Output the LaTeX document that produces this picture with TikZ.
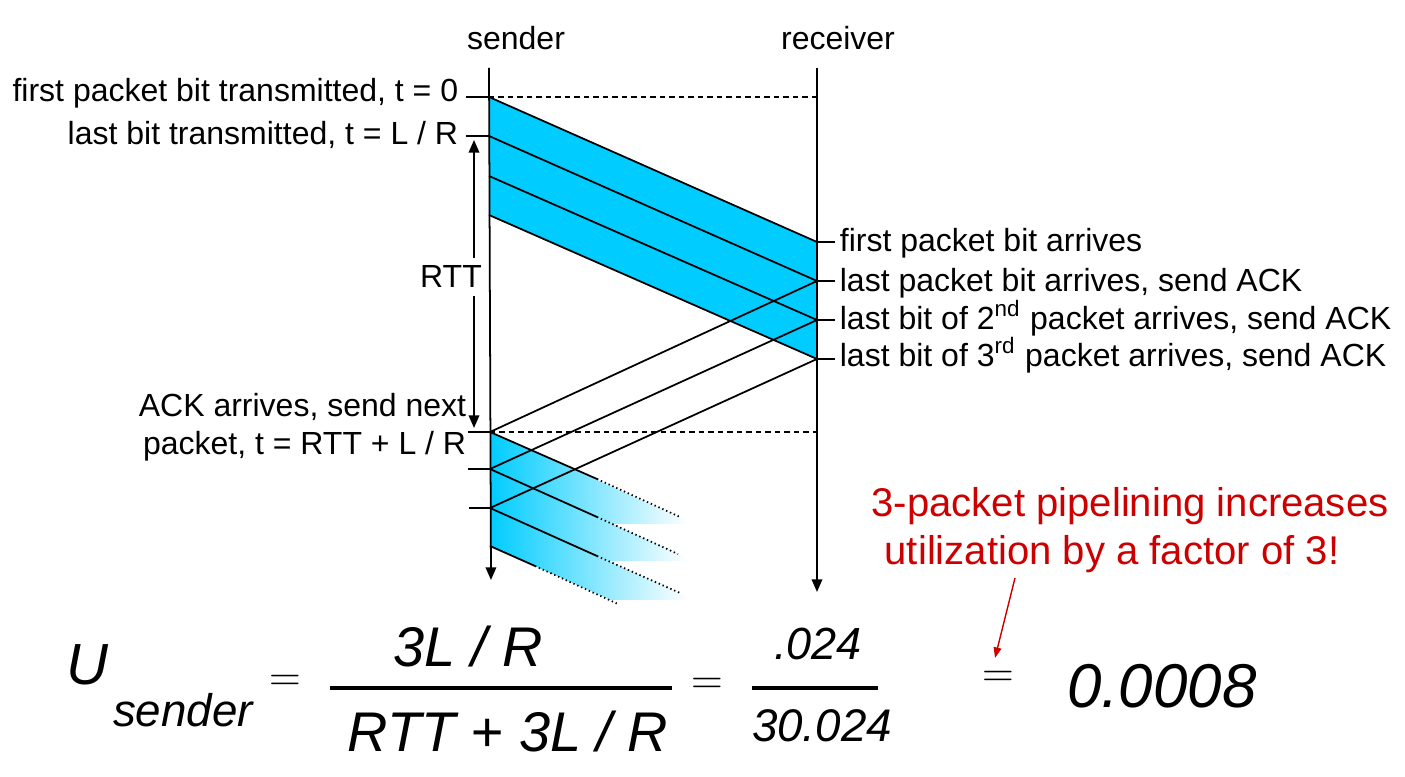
\documentclass[tikz,border=0pt]{standalone}
\usepackage{fontspec}
\setmainfont{Liberation Sans}
\usetikzlibrary{arrows.meta}
\definecolor{pktblue}{RGB}{0,204,255}
\definecolor{notered}{RGB}{204,0,0}
\newcommand{\fadeband}[2]% sender y of top edge, sender y of bottom edge
{(490,#1) -- (688,{#1+89}) -- (688,{#1+92}) -- ({490+(#1+92-#2)/0.447},{#1+92}) -- (490,#2) -- cycle
}

\begin{document}
\begin{tikzpicture}[x=0.01cm, y=-0.01cm, line width=0.5pt,
  lbl/.style={font=\fontsize{9.1}{11}\selectfont, inner sep=0pt},
  eqn/.style={font=\fontsize{#1}{#1}\selectfont\itshape, inner sep=0pt, anchor=base},
  eqsign/.style={font=\fontsize{13}{13}\selectfont, inner sep=0pt},
  tip/.style={-{Triangle[length=3.6pt,width=3pt]}},
  fracbar/.style={line width=1.4pt},
  note/.style={font=\fontsize{11.4}{13}\selectfont, text=notered, inner sep=0pt, anchor=base}]
  \useasboundingbox (0,0) rectangle (1405,777);
  % time lines
  \coordinate (stop) at (489,68);
  \coordinate (sbot) at (491,580);
  \coordinate (rtop) at (817,68);
  \coordinate (rbot) at (817,592);
  \coordinate (s1) at (489,97);
  \coordinate (s2) at (489,136);
  \coordinate (s3) at (489,176);
  \coordinate (s4) at (489,215);
  \coordinate (r1) at (817,242);
  \coordinate (r2) at (817,281);
  \coordinate (r3) at (817,320);
  \coordinate (r4) at (817,359);
  \coordinate (a1) at (490,432);
  \coordinate (a2) at (490,469);
  \coordinate (a3) at (490,508);
  \coordinate (a4) at (490,546);
  \node[lbl, anchor=base] (sname) at (516,50) {sender};
  \node[lbl, anchor=base] (rname) at (838,50) {receiver};

  % first window
  \fill[pktblue] (s1) -- (r1) -- (r4) -- (s4) -- cycle;
  \draw (s1) -- (r1);
  \draw (s2) -- (r2);
  \draw (s3) -- (r3);
  \draw (s4) -- (r4);
  \draw[dash pattern=on 1.5pt off 1.2pt] (s1) -- (s1 -| rtop);

  % next window, fading out
  \shade[left color=pktblue, right color=white] \fadeband{432}{469};
  \shade[left color=pktblue, right color=white] \fadeband{469}{508};
  \shade[left color=pktblue, right color=white] \fadeband{508}{546};
  \draw (a1) -- ++(107,47);
  \draw (a2) -- ++(107,48);
  \draw (a3) -- ++(107,48);
  \draw (a4) -- ++(45,20);
  \draw[dash pattern=on 0.4pt off 0.8pt] (597,479) -- (680,517);
  \draw[dash pattern=on 0.4pt off 0.8pt] (597,517) -- (678,554);
  \draw[dash pattern=on 0.4pt off 0.8pt] (597,556) -- (680,593);
  \draw[dash pattern=on 0.4pt off 0.8pt] (535,566) -- (618,604);
  \draw[dash pattern=on 1.5pt off 1.2pt] (a1) -- (a1 -| rtop);

  % acks
  \draw (r2) -- (a1);
  \draw (r3) -- (a2);
  \draw (r4) -- (a3);

  \draw[tip] (stop) -- (sbot);
  \draw[tip] (rtop) -- (rbot);

  % ticks
  \draw (s1) -- ++(-23,0);
  \draw (s2) -- ++(-23,0);
  \draw (a1) -- ++(-22,0);
  \draw (a2) -- ++(-22,0);
  \draw (a3) -- ++(-21,0);
  \draw (r1) -- ++(18,0);
  \draw (r2) -- ++(18,0);
  \draw (r3) -- ++(18,0);
  \draw (r4) -- ++(18,0);

  \node[lbl, anchor=base east] (t0) at (459,102) {first packet bit transmitted, t = 0};
  \node[lbl, anchor=base east] (tlr) at (459,145) {last bit transmitted, t = L / R};
  \node[lbl, anchor=base east] (acka) at (467,417) {ACK arrives, send next};
  \node[lbl, anchor=base east] (ackb) at (467,455) {packet, t = RTT + L / R};
  \node[lbl, anchor=base west] (arr1) at (839,252) {first packet bit arrives};
  \node[lbl, anchor=base west] (arr2) at (839,292) {last packet bit arrives, send ACK};
  \node[lbl, anchor=base west] (arr3) at (839,330) {last bit of 2\textsuperscript{nd} packet arrives, send ACK};
  \node[lbl, anchor=base west] (arr4) at (839,367) {last bit of 3\textsuperscript{rd} packet arrives, send ACK};

  % RTT
  \coordinate (rttup) at (474,140);
  \coordinate (rttdn) at (474,428);
  \node[lbl, anchor=base, inner ysep=2pt] (rtt) at (451,288) {RTT};
  \draw[tip] (rtt.north -| rttup) -- (rttup);
  \draw[tip] (rtt.south -| rttdn) -- (rttdn);

  % note
  \node[note] (note1) at (1130,517) {3-packet pipelining increases};
  \node[note] (note2) at (1112,565) {utilization by a factor of 3!};
  \coordinate (ntail) at (1015,578);
  \coordinate (nhead) at (995,658);
  \draw[notered, line width=0.4pt, -{Triangle[length=3pt,width=2.2pt]}] (ntail) -- (nhead);

  % utilization
  \node[eqn=16.5] (U) at (87,685) {U};
  \node[eqn=13] (Usub) at (183,727) {sender};
  \node[eqsign] (eq1) at (285,683) {$=$};
  \node[eqn=15.9] (num1) at (468,667) {3L / R};
  \draw[fracbar] (330,688) -- (672,688);
  \node[eqn=15.9] (den1) at (508,752) {RTT + 3L / R};
  \node[eqsign] (eq2) at (707,686) {$=$};
  \node[eqn=12.8] (num2) at (818,660) {.024};
  \draw[fracbar] (752,688) -- (878,688);
  \node[eqn=13] (den2) at (822,742) {30.024};
  \node[eqsign] (eq3) at (998,679) {$=$};
  \node[eqn=17.6] (res) at (1162,708) {0.0008};
\end{tikzpicture}
\end{document}
